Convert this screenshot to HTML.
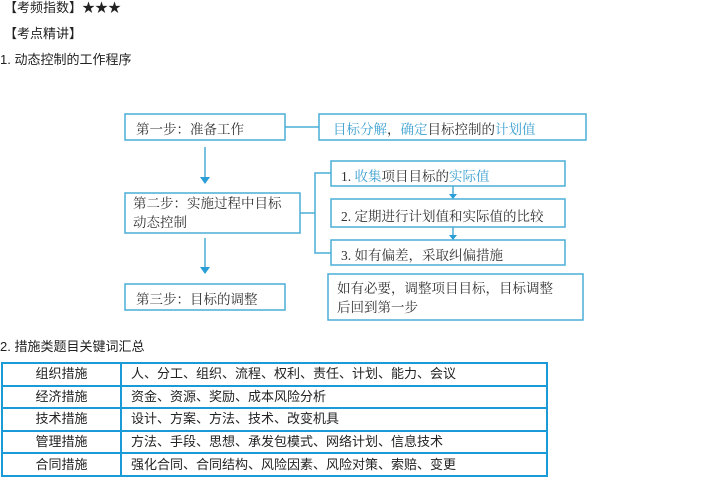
<!DOCTYPE html>
<html><head><meta charset="utf-8"><style>
body{margin:0;width:714px;height:477px;background:#fff;position:relative;overflow:hidden;font-family:"Liberation Sans","Noto Sans CJK SC",sans-serif;color:#222}
.t{position:absolute;font-size:13px;white-space:nowrap;line-height:16px}
.d{position:absolute;font-family:"Liberation Serif","Noto Serif CJK SC",serif;font-size:13.5px;color:#333;white-space:nowrap}
.b{color:#3a9fd0}
table{position:absolute;left:1px;top:362px;width:547px;border-collapse:collapse;font-size:13px}
tr{height:22.6px}
td{border:2px solid #1a9ad6;padding:0;line-height:18px}
td.c1{width:117px;text-align:center}
td.c2{padding-left:9px}
</style></head><body>
<div class="t" style="left:4px;top:0px">【考频指数】★★★</div>
<div class="t" style="left:4px;top:26px">【考点精讲】</div>
<div class="t" style="left:0px;top:52px">1. 动态控制的工作程序</div>
<svg style="position:absolute;left:0;top:0" width="714" height="340">
<g fill="none" stroke="#4aaed6" stroke-width="1.5">
<rect x="125" y="114" width="160" height="26"/>
<rect x="319" y="114" width="267" height="26"/>
<rect x="125" y="193" width="175" height="40"/>
<rect x="331" y="161" width="234" height="25"/>
<rect x="331" y="199" width="234" height="28"/>
<rect x="331" y="240" width="234" height="25"/>
<rect x="125" y="284" width="160" height="26"/>
<rect x="328" y="274" width="255" height="46"/>
<line x1="285" y1="127" x2="319" y2="127"/>
<line x1="300" y1="213" x2="315" y2="213"/>
<polyline points="331,173 315,173 315,253 331,253"/>
<line x1="205" y1="147" x2="205" y2="178"/>
<line x1="205" y1="238" x2="205" y2="268"/>
<line x1="453" y1="186" x2="453" y2="195"/>
<line x1="453" y1="227" x2="453" y2="236"/>
</g>
<g fill="#2a9ed6">
<polygon points="200,177 210,177 205,184"/>
<polygon points="200,267 210,267 205,274"/>
<polygon points="449,194 457,194 453,199"/>
<polygon points="449,235 457,235 453,240"/>
</g>
</svg>
<div class="d" style="left:136px;top:118px">第一步：准备工作</div>
<div class="d" style="left:333px;top:118px"><span class="b">目标分解</span>，<span class="b">确定</span>目标控制的<span class="b">计划值</span></div>
<div class="d" style="left:133px;top:194px;line-height:19px">第二步：实施过程中目标<br>动态控制</div>
<div class="d" style="left:341px;top:165px">1. <span class="b">收集</span>项目目标的<span class="b">实际值</span></div>
<div class="d" style="left:341px;top:205px">2. 定期进行计划值和实际值的比较</div>
<div class="d" style="left:341px;top:244px">3. 如有偏差，采取纠偏措施</div>
<div class="d" style="left:136px;top:288px">第三步：目标的调整</div>
<div class="d" style="left:337px;top:279px;line-height:19px">如有必要，调整项目目标，目标调整<br>后回到第一步</div>
<div class="t" style="left:0px;top:339px">2. 措施类题目关键词汇总</div>
<table>
<tr><td class="c1">组织措施</td><td class="c2">人、分工、组织、流程、权利、责任、计划、能力、会议</td></tr>
<tr><td class="c1">经济措施</td><td class="c2">资金、资源、奖励、成本风险分析</td></tr>
<tr><td class="c1">技术措施</td><td class="c2">设计、方案、方法、技术、改变机具</td></tr>
<tr><td class="c1">管理措施</td><td class="c2">方法、手段、思想、承发包模式、网络计划、信息技术</td></tr>
<tr><td class="c1">合同措施</td><td class="c2">强化合同、合同结构、风险因素、风险对策、索赔、变更</td></tr>
</table>
</body></html>
